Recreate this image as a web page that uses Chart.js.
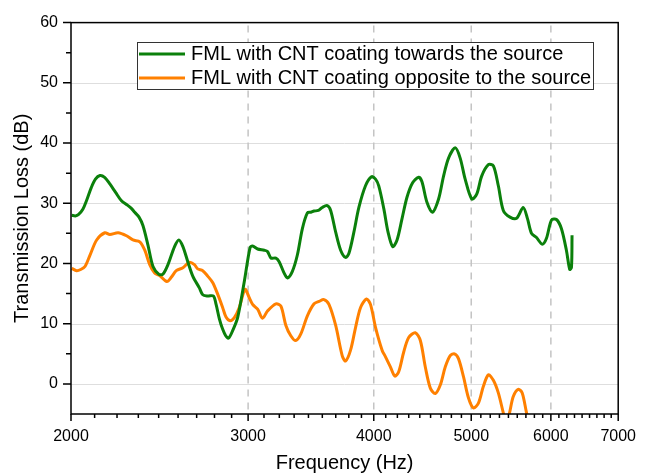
<!DOCTYPE html>
<html>
<head>
<meta charset="utf-8">
<script src="https://cdn.jsdelivr.net/npm/chart.js@4.4.0/dist/chart.umd.min.js"></script>
<style>
  html, body { margin: 0; padding: 0; background: #fff; }
  canvas { display: block; }
</style>
</head>
<body>
<canvas id="tlChart" width="649" height="473"></canvas>
<script>
// 读图得到的数据: 频率 (Hz) / 传声损失 (dB)
const greenFreq = [2003, 2020, 2034, 2055, 2073, 2095, 2115, 2137, 2160, 2186, 2215, 2245, 2271, 2295, 2314, 2337,
  2358, 2385, 2413, 2446, 2468, 2497, 2535, 2560, 2584, 2613, 2643, 2684, 2704, 2735, 2771, 2788, 2809, 2830,
  2850, 2869, 2895, 2929, 2974, 3013, 3030, 3066, 3113, 3136, 3161, 3197, 3221, 3258, 3283, 3320, 3358, 3397,
  3436, 3463, 3489, 3523, 3555, 3596, 3624, 3666, 3708, 3750, 3779, 3822, 3866, 3925, 3979, 4016, 4046, 4093,
  4133, 4177, 4219, 4267, 4316, 4372, 4433, 4466, 4517, 4575, 4640, 4693, 4747, 4820, 4875, 4931, 5006, 5063,
  5121, 5200, 5260, 5320, 5381, 5464, 5547, 5632, 5688, 5740, 5806, 5882, 5940, 6008, 6077, 6146, 6217, 6265,
  6290, 6298];
const greenTL = [28.0, 27.9, 28.1, 29.0, 30.5, 32.6, 34.0, 34.6, 34.3, 33.2, 31.8, 30.4, 29.8, 29.2, 28.5, 27.7,
  26.3, 23.1, 19.5, 18.2, 18.2, 19.8, 22.8, 23.9, 22.8, 20.3, 17.9, 15.9, 14.8, 14.6, 14.6, 13.2, 10.8, 9.1,
  8.0, 7.6, 8.8, 11.0, 17.0, 22.6, 22.9, 22.4, 22.2, 22.0, 20.9, 20.9, 20.3, 18.4, 17.6, 18.7, 21.4, 25.8,
  28.4, 28.5, 28.7, 28.8, 29.3, 29.6, 28.8, 25.2, 22.2, 21.0, 21.7, 25.2, 29.3, 32.9, 34.4, 34.0, 32.9, 29.1,
  25.2, 22.8, 23.9, 27.4, 31.0, 33.4, 34.3, 33.6, 30.2, 28.5, 30.7, 34.5, 37.5, 39.2, 37.5, 34.0, 30.7, 31.5,
  34.5, 36.4, 36.2, 32.9, 28.8, 27.7, 27.5, 29.3, 27.4, 25.0, 24.3, 23.2, 24.2, 27.2, 27.3, 25.8, 22.2, 19.0,
  19.4, 24.7];

const orangeFreq = [2003, 2026, 2045, 2065, 2089, 2121, 2161, 2186, 2228, 2271, 2305, 2341, 2368, 2395, 2422, 2450,
  2491, 2516, 2545, 2584, 2623, 2653, 2673, 2704, 2735, 2767, 2798, 2830, 2852, 2879, 2907, 2940, 2979, 3008,
  3031, 3066, 3101, 3136, 3197, 3234, 3271, 3308, 3346, 3385, 3436, 3489, 3529, 3569, 3610, 3666, 3721, 3750,
  3793, 3837, 3881, 3934, 3970, 4016, 4077, 4109, 4156, 4197, 4235, 4284, 4333, 4399, 4450, 4501, 4553, 4605,
  4658, 4711, 4765, 4812, 4856, 4912, 4968, 5025, 5083, 5141, 5200, 5260, 5320, 5381, 5417, 5455, 5505, 5568,
  5619, 5675, 5723];
const orangeTL = [19.2, 18.8, 19.0, 19.5, 21.4, 23.9, 25.1, 24.8, 25.1, 24.6, 23.9, 23.6, 22.2, 19.8, 18.4, 18.0,
  17.0, 17.7, 18.8, 19.3, 20.2, 19.8, 19.1, 18.8, 17.9, 16.8, 14.9, 12.7, 11.1, 10.5, 11.0, 12.7, 15.7, 14.3,
  13.2, 12.4, 10.9, 12.1, 13.3, 12.9, 9.7, 8.0, 7.2, 8.3, 11.3, 13.3, 13.7, 14.0, 13.2, 9.7, 4.7, 3.8,
  5.6, 9.4, 12.7, 14.1, 13.2, 9.4, 5.6, 4.5, 2.8, 1.3, 2.0, 5.3, 7.7, 8.5, 7.2, 2.8, -0.7, -1.6,
  -0.2, 2.8, 4.7, 5.0, 4.2, 1.2, -2.3, -4.0, -3.2, -0.4, 1.5, 0.6, -1.5, -4.8, -6.5, -5.0, -2.1, -0.9,
  -1.5, -4.8, -7.0];

const seriesLabels = ['FML with CNT coating towards the source', 'FML with CNT coating opposite to the source'];
const seriesColors = ['#0b800b', '#ff8000'];
const xTickValues = [2000, 3000, 4000, 5000, 6000, 7000];
const yTickValues = [0, 10, 20, 30, 40, 50, 60];
const yMinorValues = [5, 15, 25, 35, 45, 55];
const xDashedValues = [3000, 4000, 5000, 6000];

const FONT = "'Liberation Sans', Arial, Helvetica, sans-serif";

const toPoints = (fs, vs) => fs.map((f, i) => ({ x: f, y: vs[i] }));

// 网格、边框、刻度、图例
const framePlugin = {
  id: 'frame',
  beforeDatasetsDraw(chart) {
    const { ctx, chartArea: a, scales: { x, y } } = chart;
    ctx.save();
    ctx.strokeStyle = '#dedede';
    ctx.lineWidth = 1;
    yTickValues.slice(0, -1).forEach(v => {
      const py = Math.round(y.getPixelForValue(v)) + 0.5;
      ctx.beginPath();
      ctx.moveTo(a.left, py);
      ctx.lineTo(a.right, py);
      ctx.stroke();
    });
    ctx.strokeStyle = '#c4c4c4';
    ctx.lineWidth = 1.5;
    ctx.setLineDash([7, 6]);
    xDashedValues.forEach(v => {
      const px = x.getPixelForValue(v);
      ctx.beginPath();
      ctx.moveTo(px, a.top + 3);
      ctx.lineTo(px, a.bottom);
      ctx.stroke();
    });
    ctx.restore();
  },
  afterDatasetsDraw(chart) {
    const { ctx, chartArea: a, scales: { x, y } } = chart;
    ctx.save();
    ctx.strokeStyle = '#000';
    ctx.lineWidth = 1.5;
    ctx.strokeRect(a.left, a.top, a.right - a.left, a.bottom - a.top);

    ctx.beginPath();
    // x 主刻度和次刻度
    for (let i = 0; i < xTickValues.length; i++) {
      const px = x.getPixelForValue(xTickValues[i]);
      ctx.moveTo(px, a.bottom);
      ctx.lineTo(px, a.bottom + 7);
      if (i < xTickValues.length - 1) {
        const step = (xTickValues[i + 1] - xTickValues[i]) / 9;
        for (let k = 1; k < 9; k++) {
          const mx = x.getPixelForValue(xTickValues[i] + k * step);
          ctx.moveTo(mx, a.bottom);
          ctx.lineTo(mx, a.bottom + 4);
        }
      }
    }
    // y 刻度
    yTickValues.forEach(v => {
      const py = y.getPixelForValue(v);
      ctx.moveTo(a.left, py);
      ctx.lineTo(a.left - 8, py);
    });
    yMinorValues.forEach(v => {
      const py = y.getPixelForValue(v);
      ctx.moveTo(a.left, py);
      ctx.lineTo(a.left - 5, py);
    });
    ctx.stroke();

    // 图例
    const box = { left: 137, top: 42, right: 593, bottom: 89 };
    ctx.fillStyle = '#fff';
    ctx.fillRect(box.left, box.top, box.right - box.left, box.bottom - box.top);
    ctx.strokeStyle = '#333';
    ctx.lineWidth = 1;
    ctx.strokeRect(box.left + 0.5, box.top + 0.5, box.right - box.left, box.bottom - box.top);
    ctx.font = '20px ' + FONT;
    ctx.textBaseline = 'middle';
    ctx.textAlign = 'left';
    chart.data.datasets.forEach((ds, i) => {
      const ry = 54 + i * 24;
      ctx.strokeStyle = ds.borderColor;
      ctx.lineWidth = 3;
      ctx.beginPath();
      ctx.moveTo(139, ry);
      ctx.lineTo(185, ry);
      ctx.stroke();
      ctx.fillStyle = '#000';
      ctx.fillText(ds.label, 191, ry + 0.5);
    });
    ctx.restore();
  }
};

new Chart(document.getElementById('tlChart'), {
  type: 'line',
  data: {
    datasets: [
      {
        label: seriesLabels[0],
        data: toPoints(greenFreq, greenTL),
        borderColor: seriesColors[0],
        borderWidth: 3,
        tension: 0.3,
        fill: false
      },
      {
        label: seriesLabels[1],
        data: toPoints(orangeFreq, orangeTL),
        borderColor: seriesColors[1],
        borderWidth: 3,
        tension: 0.3,
        fill: false
      }
    ]
  },
  options: {
    responsive: false,
    animation: false,
    parsing: true,
    layout: { padding: { top: 18, right: 29, left: 0, bottom: -2 } },
    elements: { point: { radius: 0 } },
    plugins: {
      legend: { display: false },
      tooltip: { enabled: false }
    },
    scales: {
      x: {
        type: 'logarithmic',
        min: 2000,
        max: 7000,
        afterBuildTicks: s => { s.ticks = xTickValues.map(v => ({ value: v })); },
        afterFit: s => { s.height = 61; },
        grid: { display: false, drawTicks: false },
        border: { display: false },
        ticks: {
          color: '#000',
          font: { family: FONT, size: 16 },
          padding: 13,
          maxRotation: 0,
          autoSkip: false,
          callback: v => String(v)
        },
        title: {
          display: true,
          text: 'Frequency (Hz)',
          color: '#000',
          font: { family: FONT, size: 20 },
          padding: { top: 0, bottom: 0 }
        }
      },
      y: {
        min: -5,
        max: 60,
        afterBuildTicks: s => { s.ticks = yTickValues.map(v => ({ value: v })); },
        afterFit: s => { s.width = 71; },
        grid: { display: false, drawTicks: false },
        border: { display: false },
        ticks: {
          color: '#000',
          font: { family: FONT, size: 16 },
          padding: 13,
          callback: v => String(v)
        },
        title: {
          display: true,
          text: 'Transmission Loss (dB)',
          color: '#000',
          font: { family: FONT, size: 20 },
          padding: { top: 10.5, bottom: 0 }
        }
      }
    }
  },
  plugins: [framePlugin]
});
</script>
</body>
</html>
